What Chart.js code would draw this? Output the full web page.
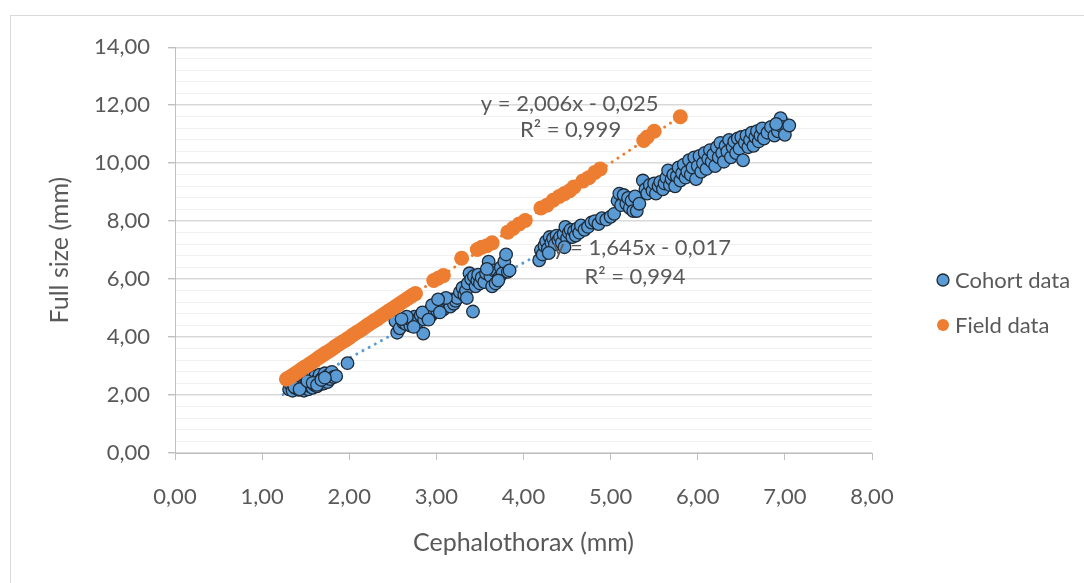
<!DOCTYPE html>
<html lang="en">
<head>
<meta charset="UTF-8">
<title>Cephalothorax vs full size</title>
<script src="https://cdn.jsdelivr.net/npm/chart.js"></script>
<style>
  html, body { margin: 0; padding: 0; background: #fff; overflow: hidden; }
  .frame { position: absolute; left: 10px; top: 15px; width: 1080px; height: 575px; border: 1px solid #d9d9d9; }
</style>
</head>
<body>
<div class="frame"><canvas id="chart" width="1080" height="575"></canvas></div>
<script>
// values (x = cephalothorax, y = full size, mm)
const seriesNames = ['Cohort data', 'Field data'];

const cohortPoints = [
  [1.28,2.55],[1.31,2.20],[1.33,2.35],[1.35,2.15],[1.36,2.40],[1.38,2.25],[1.40,2.30],[1.41,2.45],[1.42,2.18],[1.44,2.35],
  [1.45,2.22],[1.46,2.50],[1.47,2.30],[1.48,2.15],[1.49,2.40],[1.50,2.28],[1.51,2.55],[1.52,2.35],[1.53,2.20],[1.54,2.45],
  [1.55,2.30],[1.56,2.60],[1.57,2.38],[1.58,2.25],[1.59,2.50],[1.60,2.35],[1.61,2.65],[1.62,2.42],[1.63,2.30],[1.64,2.55],
  [1.65,2.45],[1.66,2.70],[1.67,2.38],[1.68,2.55],[1.69,2.48],[1.70,2.62],[1.71,2.40],[1.72,2.75],[1.73,2.50],[1.74,2.58],
  [1.75,2.45],[1.76,2.68],[1.78,2.55],[1.80,2.80],[1.82,2.62],[1.85,2.65],[1.37,2.28],[1.43,2.20],[1.52,2.48],[1.58,2.42],
  [1.63,2.35],[1.68,2.52],[1.72,2.60],[1.98,3.10],
  [2.53,4.55],[2.55,4.15],[2.58,4.30],[2.62,4.50],[2.65,4.45],[2.68,4.60],[2.70,4.40],[2.72,4.55],[2.75,4.70],[2.78,4.50],
  [2.80,4.65],[2.82,4.75],[2.85,4.12],[2.86,4.60],[2.88,4.80],[2.90,4.70],[2.92,4.90],[2.94,4.75],[2.96,5.00],[2.98,4.85],
  [3.00,5.05],[3.01,4.90],[3.03,5.20],[3.05,5.00],[3.06,5.15],[3.08,4.95],[3.10,5.25],[3.12,5.10],[3.14,5.20],[3.16,5.05],
  [3.18,5.30],[3.20,5.15],[3.22,5.25],[3.24,5.35],[2.66,4.70],[2.74,4.35],[2.84,4.85],[2.95,5.10],[3.04,4.85],[3.11,5.35],
  [2.60,4.62],[2.91,4.60],[3.02,5.30],
  [3.27,5.55],[3.30,5.70],[3.32,5.45],[3.34,5.60],[3.36,5.85],[3.38,6.20],[3.40,6.00],[3.42,4.88],[3.43,6.10],[3.45,5.75],
  [3.47,5.95],[3.48,6.15],[3.50,5.85],[3.52,6.05],[3.55,5.90],[3.57,6.20],[3.60,6.60],[3.62,6.10],[3.64,5.75],[3.66,6.30],
  [3.68,5.85],[3.70,6.25],[3.72,6.05],[3.74,6.40],[3.76,6.20],[3.78,6.60],[3.80,6.85],[3.82,6.25],[3.84,6.30],[3.35,5.35],
  [3.58,6.35],[3.71,5.95],
  [4.18,6.65],[4.20,7.00],[4.22,6.85],[4.24,7.15],[4.26,7.30],[4.28,7.05],[4.30,7.45],[4.32,7.25],[4.34,7.40],[4.36,7.20],
  [4.38,7.50],[4.40,7.35],[4.42,7.45],[4.44,7.25],[4.46,7.55],[4.48,7.80],[4.50,7.40],[4.52,7.60],[4.54,7.70],[4.56,7.45],
  [4.58,7.65],[4.60,7.50],[4.62,7.75],[4.64,7.60],[4.66,7.85],[4.70,7.70],[4.74,7.80],[4.78,7.95],[4.82,8.00],[4.86,7.90],
  [4.90,8.10],[4.29,6.90],[4.47,7.10],
  [4.95,8.05],[5.00,8.15],[5.04,8.25],[5.08,8.70],[5.10,8.95],[5.12,8.55],[5.15,8.90],[5.18,8.60],[5.20,8.80],[5.22,8.45],
  [5.24,8.70],[5.26,8.35],[5.28,8.85],[5.30,8.35],[5.33,8.60],
  [5.37,9.40],[5.40,9.10],[5.42,8.95],[5.45,9.25],[5.48,9.05],[5.50,9.30],[5.52,8.95],[5.55,9.20],[5.57,9.35],[5.60,9.10],
  [5.62,9.30],[5.64,9.50],[5.66,9.75],[5.68,9.25],[5.70,9.45],[5.72,9.60],[5.74,9.20],[5.76,9.55],[5.78,9.85],[5.80,9.40],
  [5.82,9.65],[5.84,9.95],[5.86,9.50],[5.88,9.70],[5.90,10.10],[5.92,9.60],[5.94,9.85],[5.96,10.20],[5.98,9.45],[6.00,9.90],
  [6.02,10.25],[6.04,9.70],
  [6.06,10.00],[6.08,10.35],[6.10,9.80],[6.12,10.15],[6.14,10.45],[6.16,10.05],[6.18,10.30],[6.20,9.90],[6.22,10.55],[6.24,10.20],
  [6.26,10.70],[6.28,10.35],[6.30,10.05],[6.32,10.60],[6.34,10.40],[6.36,10.80],[6.38,10.20],[6.40,10.55],[6.42,10.75],[6.44,10.35],
  [6.46,10.85],[6.48,10.50],[6.50,10.90],[6.52,10.10],[6.54,10.70],[6.56,10.95],[6.58,10.55],[6.60,10.80],[6.62,11.05],[6.64,10.60],
  [6.66,10.90],[6.68,11.10],[6.70,10.75],[6.72,10.95],[6.74,11.20],[6.76,10.85],[6.80,11.05],[6.84,11.25],[6.88,10.95],[6.92,11.10],
  [6.95,11.55],[6.97,11.25],[7.00,10.98],[7.05,11.30],[6.90,11.35]
];

const fieldPoints = [
  [1.28,2.55],[1.32,2.62],[1.36,2.70],[1.40,2.78],[1.44,2.86],[1.48,2.95],[1.52,3.02],[1.56,3.10],[1.60,3.18],[1.64,3.27],
  [1.68,3.35],[1.72,3.43],[1.76,3.50],[1.80,3.58],[1.84,3.67],[1.88,3.75],[1.92,3.83],[1.96,3.90],[2.00,3.98],[2.04,4.07],
  [2.08,4.15],[2.12,4.22],[2.16,4.30],[2.20,4.39],[2.24,4.47],[2.28,4.55],[2.32,4.62],[2.36,4.71],[2.40,4.79],[2.44,4.87],
  [2.48,4.95],[2.52,5.03],[2.56,5.11],[2.60,5.19],[2.64,5.27],[2.68,5.35],[2.72,5.43],[2.76,5.50],[2.97,5.95],[3.02,6.03],
  [3.08,6.12],[3.29,6.72],[3.47,7.02],[3.52,7.10],[3.58,7.15],[3.64,7.25],[3.82,7.62],[3.88,7.75],[3.95,7.90],[4.02,8.02],
  [4.20,8.45],[4.27,8.55],[4.34,8.72],[4.41,8.85],[4.47,8.95],[4.53,9.05],[4.58,9.18],[4.68,9.38],[4.75,9.50],[4.82,9.68],
  [4.88,9.80],[5.38,10.78],[5.42,10.90],[5.50,11.10],[5.80,11.60]
];

// linear trendlines, end points as drawn
const cohortTrend = [[1.24, 2.02], [7.05, 11.58]];
const fieldTrend = [[1.27, 2.52], [5.80, 11.61]];
const cohortTrendText = ['y = 1,645x - 0,017', 'R² = 0,994'];
const fieldTrendText = ['y = 2,006x - 0,025', 'R² = 0,999'];

const xTicks = [0, 1, 2, 3, 4, 5, 6, 7, 8];
const yTicks = [0, 2, 4, 6, 8, 10, 12, 14];

const FONT = 'Lato';
const GREY = '#595959';
const BLUE = '#5b9bd5';
const ORANGE = '#ed7d31';

const toXY = arr => arr.map(p => ({x: p[0], y: p[1]}));
const fmt = v => v.toFixed(2).replace('.', ',');
const isMajor = v => Math.abs(Math.round(v / 2) * 2 - v) < 1e-6;

// equation labels next to trendlines, placed in data coordinates
const trendLabels = {
  id: 'trendLabels',
  afterDatasetsDraw(chart) {
    const {ctx, scales: {x, y}} = chart;
    ctx.save();
    ctx.font = '22px ' + FONT;
    ctx.fillStyle = GREY;
    ctx.textAlign = 'center';
    ctx.textBaseline = 'middle';
    ctx.fillText(fieldTrendText[0], x.getPixelForValue(4.53), y.getPixelForValue(12.06));
    ctx.fillText(fieldTrendText[1], x.getPixelForValue(4.54), y.getPixelForValue(11.15));
    ctx.fillText(cohortTrendText[0], x.getPixelForValue(5.36), y.getPixelForValue(7.07));
    ctx.fillText(cohortTrendText[1], x.getPixelForValue(5.28), y.getPixelForValue(6.08));
    ctx.restore();
  }
};

// legend on the right, like the spreadsheet one
const sideLegend = {
  id: 'sideLegend',
  afterDraw(chart) {
    const ctx = chart.ctx;
    ctx.save();
    ctx.font = '22px ' + FONT;
    ctx.textBaseline = 'middle';
    seriesNames.forEach((name, i) => {
      const d = chart.data.datasets.find(ds => ds.label === name);
      const cy = 264 + i * 45;
      ctx.beginPath();
      ctx.arc(932, cy, 6, 0, Math.PI * 2);
      ctx.fillStyle = d.backgroundColor;
      ctx.fill();
      if (d.borderWidth) {
        ctx.lineWidth = d.borderWidth;
        ctx.strokeStyle = d.borderColor;
        ctx.stroke();
      }
      ctx.fillStyle = GREY;
      ctx.fillText(d.label, 944, cy + 1);
    });
    ctx.restore();
  }
};

new Chart(document.getElementById('chart'), {
  type: 'scatter',
  data: {
    datasets: [
      {
        label: seriesNames[1],
        data: toXY(fieldPoints),
        backgroundColor: ORANGE,
        borderColor: ORANGE,
        borderWidth: 0,
        pointRadius: 7.5,
        order: 1
      },
      {
        label: seriesNames[0],
        data: toXY(cohortPoints),
        backgroundColor: BLUE,
        borderColor: '#1e2a36',
        borderWidth: 1.3,
        pointRadius: 6.3,
        order: 2
      },
      {
        label: 'cohort trend',
        data: toXY(cohortTrend),
        showLine: true,
        borderColor: BLUE,
        borderWidth: 3,
        borderDash: [0.01, 7],
        borderCapStyle: 'round',
        pointRadius: 0,
        order: 3
      },
      {
        label: 'field trend',
        data: toXY(fieldTrend),
        showLine: true,
        borderColor: ORANGE,
        borderWidth: 3,
        borderDash: [0.01, 7],
        borderCapStyle: 'round',
        pointRadius: 0,
        order: 3
      }
    ]
  },
  options: {
    responsive: false,
    animation: false,
    layout: { padding: { left: 0, top: 27, right: 219, bottom: 0 } },
    plugins: {
      legend: { display: false },
      tooltip: { enabled: false }
    },
    scales: {
      x: {
        type: 'linear',
        min: xTicks[0],
        max: xTicks[xTicks.length - 1],
        afterFit: s => { s.height = 138; },
        afterBuildTicks: s => { s.ticks = xTicks.map(v => ({value: v})); },
        border: { color: '#bfbfbf', width: 1 },
        grid: { drawOnChartArea: false, tickLength: 7, color: '#bfbfbf' },
        ticks: { padding: 24, color: GREY, font: { family: FONT, size: 22 }, callback: v => fmt(v) },
        title: { display: true, text: 'Cephalothorax (mm)', color: GREY, font: { family: FONT, size: 25 }, padding: { top: 0, bottom: 33 } }
      },
      y: {
        type: 'linear',
        min: yTicks[0],
        max: yTicks[yTicks.length - 1],
        afterFit: s => { s.width = 164; },
        border: { color: '#bfbfbf', width: 1 },
        grid: {
          tickLength: 7,
          color: c => isMajor(c.tick.value) ? '#d9d9d9' : '#f0f0f0',
          lineWidth: c => isMajor(c.tick.value) ? 1.4 : 1,
          tickColor: c => isMajor(c.tick.value) ? '#bfbfbf' : 'rgba(0,0,0,0)'
        },
        ticks: {
          stepSize: 0.4,
          autoSkip: false,
          padding: 18,
          color: GREY,
          font: { family: FONT, size: 22 },
          callback: v => isMajor(v) ? fmt(Math.round(v)) : ''
        },
        title: { display: true, text: 'Full size (mm)', color: GREY, font: { family: FONT, size: 25 }, padding: { top: 34, bottom: 0 } }
      }
    }
  },
  plugins: [trendLabels, sideLegend]
});
</script>
</body>
</html>
